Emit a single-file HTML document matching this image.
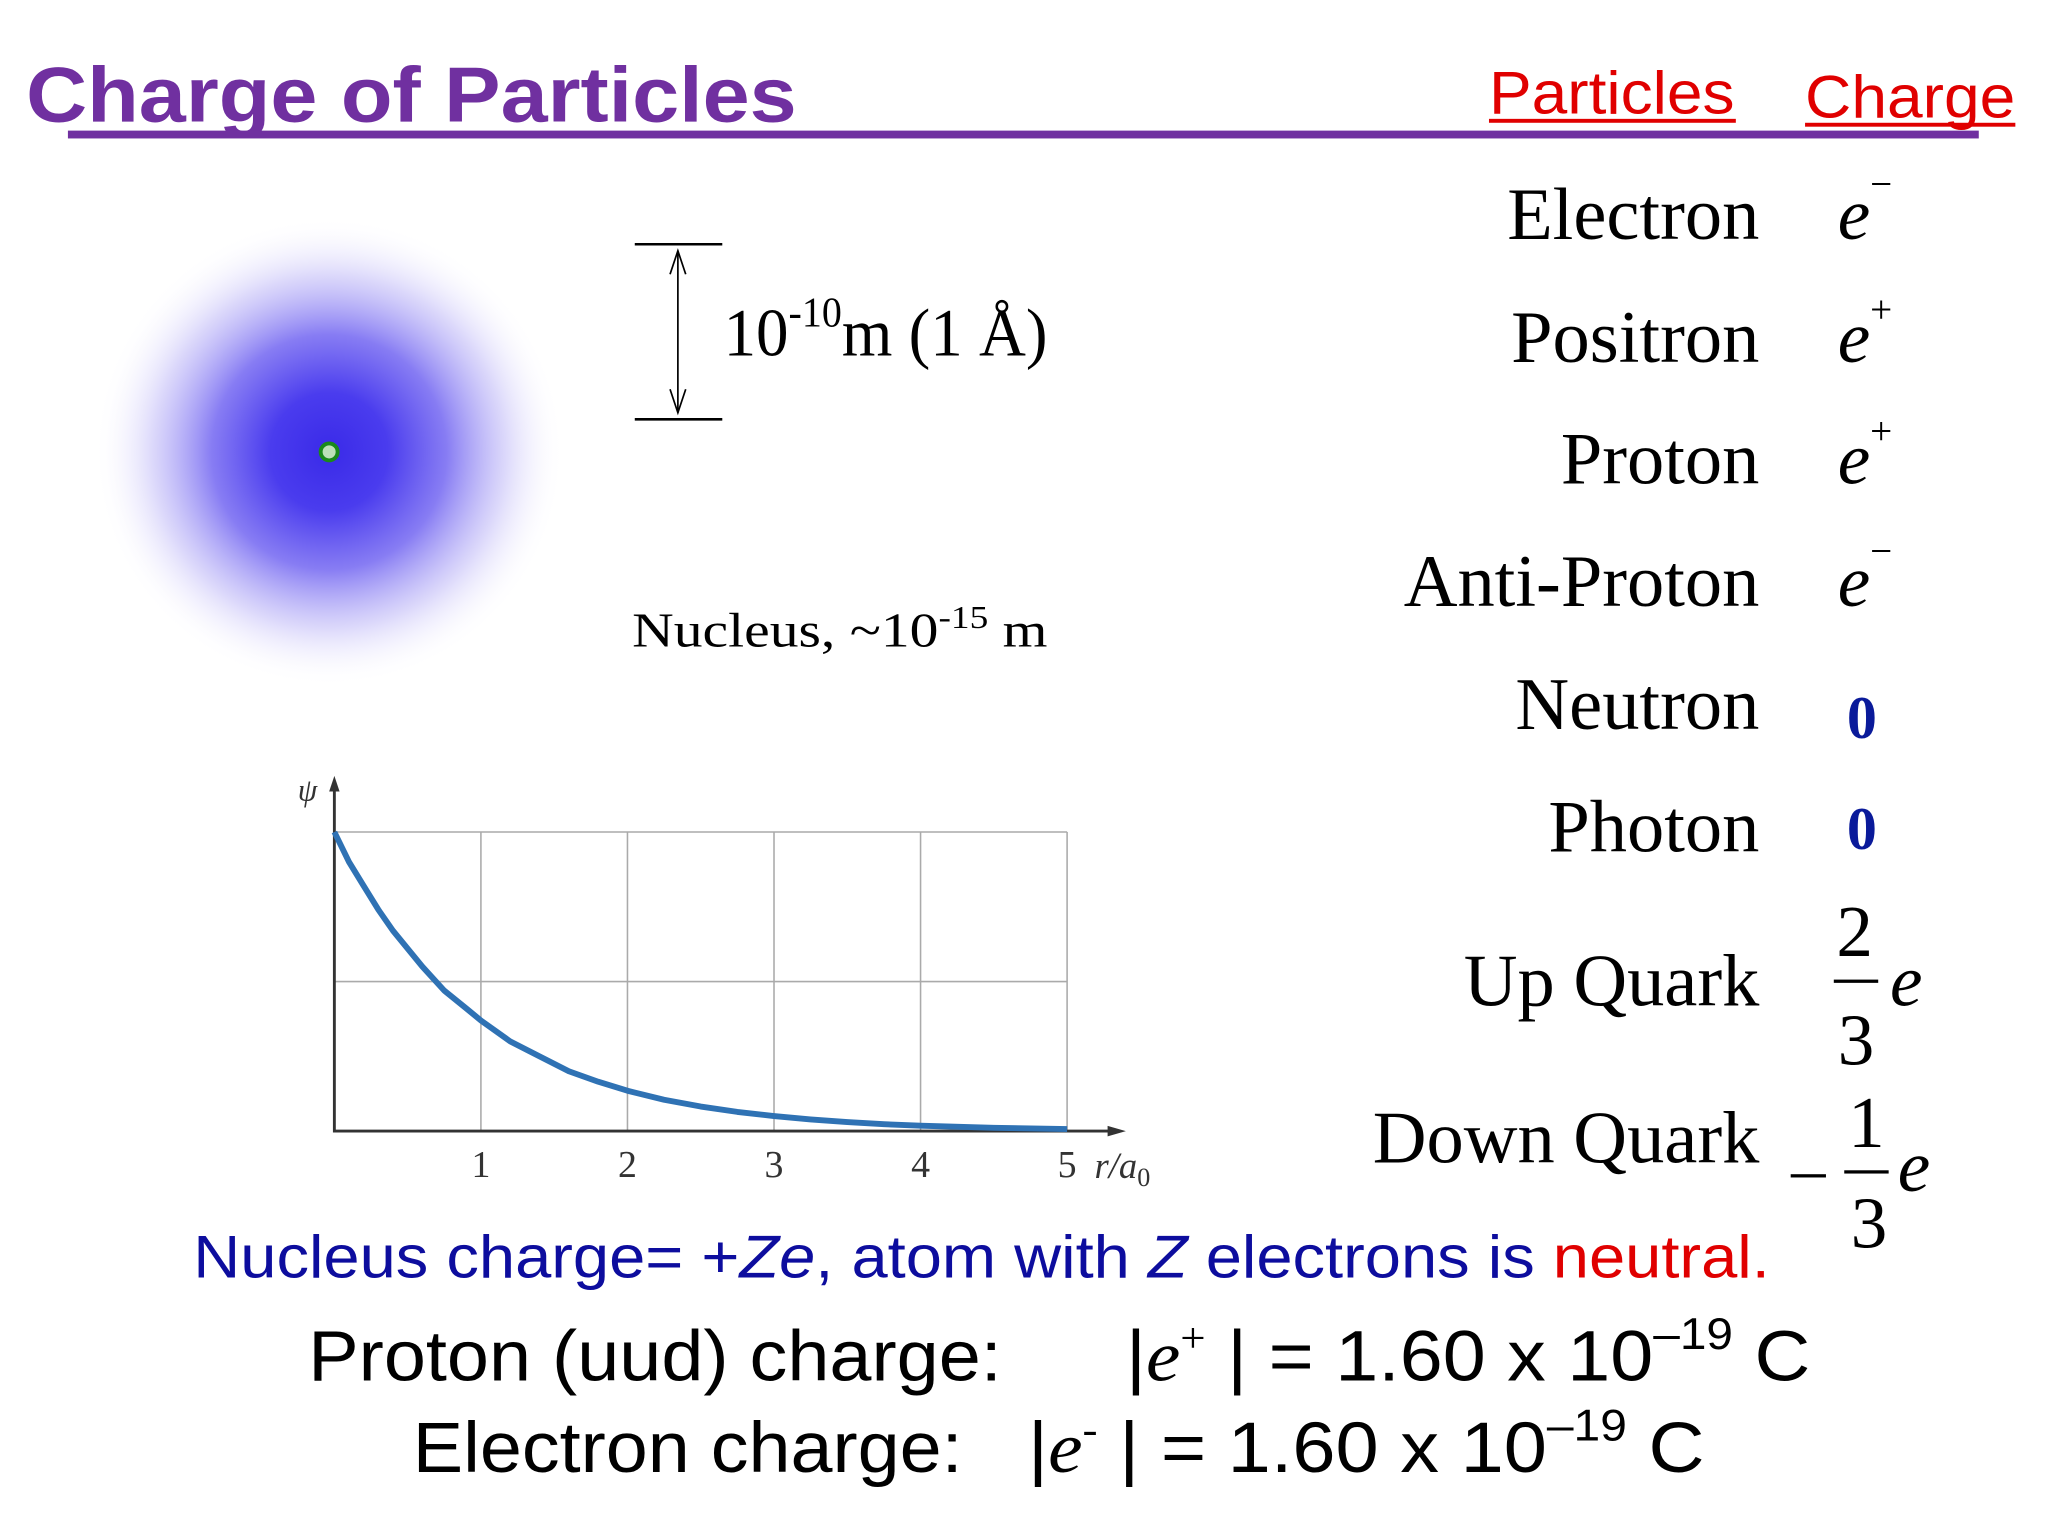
<!DOCTYPE html>
<html><head><meta charset="utf-8"><style>
html,body{margin:0;padding:0;background:#fff;}
svg{display:block;}
.t{font-family:"Liberation Serif",serif;}
.s{font-family:"Liberation Sans",sans-serif;}
</style></head><body>
<svg id="main" width="2048" height="1536" viewBox="0 0 1568 1176" xmlns="http://www.w3.org/2000/svg">
<defs>
<radialGradient id="blob" cx="0.5" cy="0.5" r="0.5">
<stop offset="0" stop-color="#3a2ae8"/>
<stop offset="0.25" stop-color="#4a3cee"/>
<stop offset="0.5" stop-color="#7a6ef2" stop-opacity="0.9"/>
<stop offset="0.75" stop-color="#c4bef8" stop-opacity="0.6"/>
<stop offset="1" stop-color="#ffffff" stop-opacity="0"/>
</radialGradient>
</defs>
<rect width="1568" height="1176" fill="#fff"/>
<text class="s" x="20" y="93" font-size="60" font-weight="bold" fill="#7030a0" textLength="590" lengthAdjust="spacingAndGlyphs">Charge of Particles</text>
<rect x="52" y="100" width="1463" height="6" fill="#7030a0"/>
<text class="s" x="1140" y="87" font-size="46" fill="#e00000" textLength="188" lengthAdjust="spacingAndGlyphs">Particles</text>
<text class="s" x="1382" y="90" font-size="46" fill="#e00000" textLength="161" lengthAdjust="spacingAndGlyphs">Charge</text>
<rect x="1140" y="91" width="189" height="3" fill="#e00000"/>
<rect x="1382" y="94" width="161" height="3" fill="#e00000"/>

<circle cx="252" cy="346" r="180" fill="url(#blob)"/>
<circle cx="252" cy="346" r="6.5" fill="#bde0b8" stroke="#1a8a1a" stroke-width="3"/>

<g stroke="#000">
<line x1="486" y1="187" x2="553" y2="187" stroke-width="2"/>
<line x1="486" y1="321" x2="553" y2="321" stroke-width="2"/>
<line x1="519" y1="192" x2="519" y2="316" stroke-width="1.3"/>
<polyline points="513,210 519,192 525,210" fill="none" stroke-width="1.3"/>
<polyline points="513,298 519,316 525,298" fill="none" stroke-width="1.3"/>
</g>
<text class="t" x="554" y="272" font-size="52" textLength="248" lengthAdjust="spacingAndGlyphs">10<tspan font-size="32" dy="-22">-10</tspan><tspan dy="22">m  (1 Å)</tspan></text>
<text class="t" x="484" y="495" font-size="37" textLength="318" lengthAdjust="spacingAndGlyphs">Nucleus, ~10<tspan font-size="24" dy="-14">-15</tspan><tspan dy="14"> m</tspan></text>

<g id="chart"></g>

<g class="t" font-size="57" text-anchor="end" fill="#000">
<text x="1347" y="183">Electron</text>
<text x="1347" y="277">Positron</text>
<text x="1347" y="370">Proton</text>
<text x="1347" y="464">Anti-Proton</text>
<text x="1347" y="558">Neutron</text>
<text x="1347" y="652">Photon</text>
<text x="1347" y="770">Up Quark</text>
<text x="1347" y="890">Down Quark</text>
</g>
<g class="t" fill="#000">
<text x="1407" y="183" font-size="56" font-style="italic">e<tspan font-size="30" dy="-32" font-style="normal">−</tspan></text>
<text x="1407" y="277" font-size="56" font-style="italic">e<tspan font-size="30" dy="-30" font-style="normal">+</tspan></text>
<text x="1407" y="370" font-size="56" font-style="italic">e<tspan font-size="30" dy="-30" font-style="normal">+</tspan></text>
<text x="1407" y="464" font-size="56" font-style="italic">e<tspan font-size="30" dy="-32" font-style="normal">−</tspan></text>
<text x="1414" y="565" font-size="46" font-weight="bold" fill="#0a1a9a">0</text>
<text x="1414" y="650" font-size="46" font-weight="bold" fill="#0a1a9a">0</text>
<g font-size="56">
<text x="1406" y="732">2</text><rect x="1404" y="750" width="34" height="2.5" fill="#000"/><text x="1407" y="815">3</text>
<text x="1447" y="770" font-style="italic">e</text></g>
<g font-size="56">
<rect x="1371" y="899" width="27" height="2.5" fill="#000"/>
<text x="1415" y="878">1</text><rect x="1412" y="896" width="34" height="2.5" fill="#000"/><text x="1417" y="955">3</text>
<text x="1453" y="912" font-style="italic">e</text></g>
</g>

<text class="s" x="148" y="978" font-size="46" fill="#0d0d9e" textLength="1207" lengthAdjust="spacingAndGlyphs">Nucleus charge= +<tspan font-style="italic">Ze</tspan>, atom with <tspan font-style="italic">Z</tspan> electrons is <tspan fill="#e00000">neutral.</tspan></text>
<text class="s" x="236" y="1057" font-size="55" fill="#000" textLength="531" lengthAdjust="spacingAndGlyphs">Proton (uud) charge:</text>
<text class="s" x="862" y="1057" font-size="55" fill="#000" textLength="524" lengthAdjust="spacingAndGlyphs">|<tspan class="t" font-style="italic">e</tspan><tspan class="t" font-size="32" dy="-22">+</tspan><tspan dy="22"> | = 1.60 x 10</tspan><tspan font-size="34" dy="-24">–19</tspan><tspan dy="24"> C</tspan></text>
<text class="s" x="316" y="1127" font-size="55" fill="#000" textLength="421" lengthAdjust="spacingAndGlyphs">Electron charge:</text>
<text class="s" x="787" y="1127" font-size="55" fill="#000" textLength="518" lengthAdjust="spacingAndGlyphs">|<tspan class="t" font-style="italic">e</tspan><tspan class="t" font-size="32" dy="-22">-</tspan><tspan dy="22"> | = 1.60 x 10</tspan><tspan font-size="34" dy="-24">–19</tspan><tspan dy="24"> C</tspan></text>
</svg>
<script>
const rValues = [0, 0.1, 0.2, 0.3, 0.4, 0.5, 0.6, 0.75, 0.9, 1, 1.2, 1.4, 1.6, 1.8, 2, 2.25, 2.5, 2.75, 3, 3.25, 3.5, 3.75, 4, 4.5, 5];
const psiValues = [1, 0.9, 0.82, 0.74, 0.67, 0.61, 0.55, 0.47, 0.41, 0.37, 0.3, 0.25, 0.2, 0.165, 0.135, 0.105, 0.082, 0.064, 0.05, 0.039, 0.03, 0.023, 0.018, 0.011, 0.007];
const xTicks = [1, 2, 3, 4, 5];
const yGrid = [0.5, 1];
const NS = 'http://www.w3.org/2000/svg';
const g = document.getElementById('chart');
const X0 = 256, X1 = 817, Y0 = 866, Y1 = 637;
const xs = v => X0 + (X1 - X0) * v / 5;
const ys = v => Y0 - (Y0 - Y1) * v;
function mk(tag, attrs, parent) { const e = document.createElementNS(NS, tag); for (const k in attrs) e.setAttribute(k, attrs[k]); (parent || g).appendChild(e); return e; }
xTicks.forEach(t => {
  const l = mk('line', {x1: xs(t), y1: Y1, x2: xs(t), y2: Y0, stroke: '#aaa', 'stroke-width': 1.2});
  
  
  const tx = mk('text', {x: xs(t), y: 901, 'text-anchor': 'middle', 'font-family': 'Liberation Serif, serif', 'font-size': 29, fill: '#333'});
  tx.textContent = t;
  
  
});
yGrid.forEach(t => {
  const l = mk('line', {x1: X0, y1: ys(t), x2: X1, y2: ys(t), stroke: '#aaa', 'stroke-width': 1.2});
  
  
});
const ax = mk('path', {d: `M${X0} 603 L${X0} ${Y0} L850 ${Y0}`, stroke: '#333', 'stroke-width': 2.2, fill: 'none'});


const ar1 = mk('path', {d: `M${X0-4} 606 L${X0} 594 L${X0+4} 606 Z`, fill: '#333'});


const ar2 = mk('path', {d: `M848 ${Y0-4} L862 ${Y0} L848 ${Y0+4} Z`, fill: '#333'});


const yl = mk('text', {x: 228, y: 613, 'font-family': 'Liberation Serif, serif', 'font-style': 'italic', 'font-size': 24, fill: '#333'});
yl.textContent = 'ψ';


const xl = mk('text', {x: 838, y: 902, 'font-family': 'Liberation Serif, serif', 'font-style': 'italic', 'font-size': 28, fill: '#333'});
xl.innerHTML = 'r/a<tspan font-size="20" dy="6" font-style="normal">0</tspan>';


let d = '';
rValues.forEach((r, i) => { d += (i ? ' L' : 'M') + xs(r).toFixed(1) + ' ' + ys(psiValues[i]).toFixed(1); });
const curve = mk('path', {d: d, stroke: '#2f72b4', 'stroke-width': 4.5, fill: 'none', 'stroke-linejoin': 'round'});


</script>
</body></html>
